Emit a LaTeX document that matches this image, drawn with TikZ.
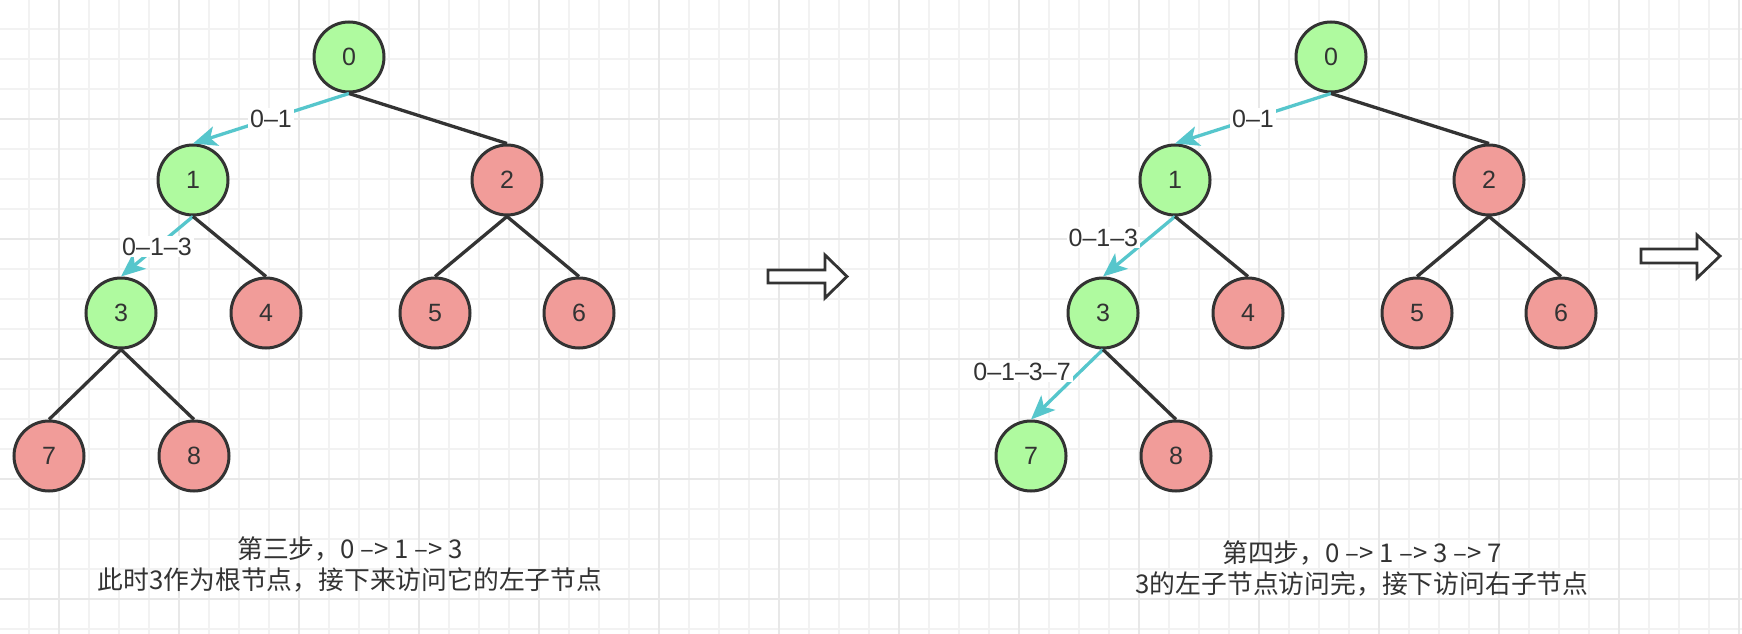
\documentclass[tikz,border=0pt]{standalone}
\usepackage{fontspec}
\setmainfont{Liberation Sans}
\newfontfamily\cjk{Noto Sans CJK SC}
\usetikzlibrary{arrows.meta}

\definecolor{visited}{HTML}{AFFA9F}
\definecolor{unvisited}{HTML}{F19C99}
\definecolor{ink}{HTML}{333333}
\definecolor{walkcol}{HTML}{56C6CC}
\definecolor{gridminor}{HTML}{F2F2F2}
\definecolor{gridmajor}{HTML}{E8E8E8}

\tikzset{
  treenode/.style={circle, draw=ink, line width=3pt, minimum size=70pt, inner sep=0pt,
    font=\fontsize{25}{25}\selectfont, text=ink},
  done/.style={treenode, fill=visited},
  todo/.style={treenode, fill=unvisited},
  branch/.style={draw=ink, line width=3.3pt},
  walk/.style={draw=walkcol, line width=3.3pt, -{Stealth[length=24pt,width=20pt,inset=6pt]}},
  steplabel/.style={fill=white, inner sep=2pt, text=ink, font=\fontsize{25}{25}\selectfont},
  stepnote/.style={align=center, text=ink, font=\cjk\fontsize{25.8}{31}\selectfont},
  hollow/.style={draw=ink, line width=2.8pt, fill=white, line join=miter}
}

\begin{document}
\begin{tikzpicture}[x=1pt, y=-1pt]
  % Background and grid
  \fill[white] (0,0) rectangle (1742,634);
  \useasboundingbox (0,0) rectangle (1742,634);
  \foreach \gx in {29,59,...,1739} \draw[gridminor, line width=1.3pt] (\gx,0) -- (\gx,634);
  \foreach \gy in {29,59,...,629} \draw[gridminor, line width=1.3pt] (0,\gy) -- (1742,\gy);
  \foreach \gx in {59,179,...,1739} \draw[gridmajor, line width=1.8pt] (\gx,0) -- (\gx,634);
  \foreach \gy in {119,239,...,599} \draw[gridmajor, line width=1.8pt] (0,\gy) -- (1742,\gy);

  % Step three
  \node[done] (l0) at (349,57) {0};
  \node[done] (l1) at (193,180) {1};
  \node[todo] (l2) at (507,180) {2};
  \node[done] (l3) at (121,313) {3};
  \node[todo] (l4) at (266,313) {4};
  \node[todo] (l5) at (435,313) {5};
  \node[todo] (l6) at (579,313) {6};
  \node[todo] (l7) at (49,456) {7};
  \node[todo] (l8) at (194,456) {8};

  \draw[walk] (l0.south) -- node[steplabel] {0–1} (l1.north);
  \draw[branch] (l0.south) -- (l2.north);
  \draw[walk] (l1.south) -- node[steplabel] {0–1–3} (l3.north);
  \draw[branch] (l1.south) -- (l4.north);
  \draw[branch] (l2.south) -- (l5.north);
  \draw[branch] (l2.south) -- (l6.north);
  \draw[branch] (l3.south) -- (l7.north);
  \draw[branch] (l3.south) -- (l8.north);

  \node[stepnote] (note3) at (350,564.5) {第三步，0 –> 1 –> 3\\此时3作为根节点，接下来访问它的左子节点};

  \draw[hollow] (768,270) -- (825,270) -- (825,255) -- (847,276.5) -- (825,298) -- (825,283) -- (768,283) -- cycle;

  % Step four
  \node[done] (r0) at (1331,57) {0};
  \node[done] (r1) at (1175,180) {1};
  \node[todo] (r2) at (1489,180) {2};
  \node[done] (r3) at (1103,313) {3};
  \node[todo] (r4) at (1248,313) {4};
  \node[todo] (r5) at (1417,313) {5};
  \node[todo] (r6) at (1561,313) {6};
  \node[done] (r7) at (1031,456) {7};
  \node[todo] (r8) at (1176,456) {8};

  \draw[walk] (r0.south) -- node[steplabel] {0–1} (r1.north);
  \draw[branch] (r0.south) -- (r2.north);
  \draw[walk] (r1.south) -- node[steplabel, pos=0.35, left=8pt] {0–1–3} (r3.north);
  \draw[branch] (r1.south) -- (r4.north);
  \draw[branch] (r2.south) -- (r5.north);
  \draw[branch] (r2.south) -- (r6.north);
  \draw[walk] (r3.south) -- node[steplabel, pos=0.315, left=6pt] {0–1–3–7} (r7.north);
  \draw[branch] (r3.south) -- (r8.north);

  \node[stepnote] (note4) at (1362,568) {第四步，0 –> 1 –> 3 –> 7\\3的左子节点访问完，接下访问右子节点};

  \draw[hollow] (1641,249) -- (1697,249) -- (1697,235) -- (1720,256) -- (1697,278) -- (1697,263) -- (1641,263) -- cycle;
\end{tikzpicture}
\end{document}
